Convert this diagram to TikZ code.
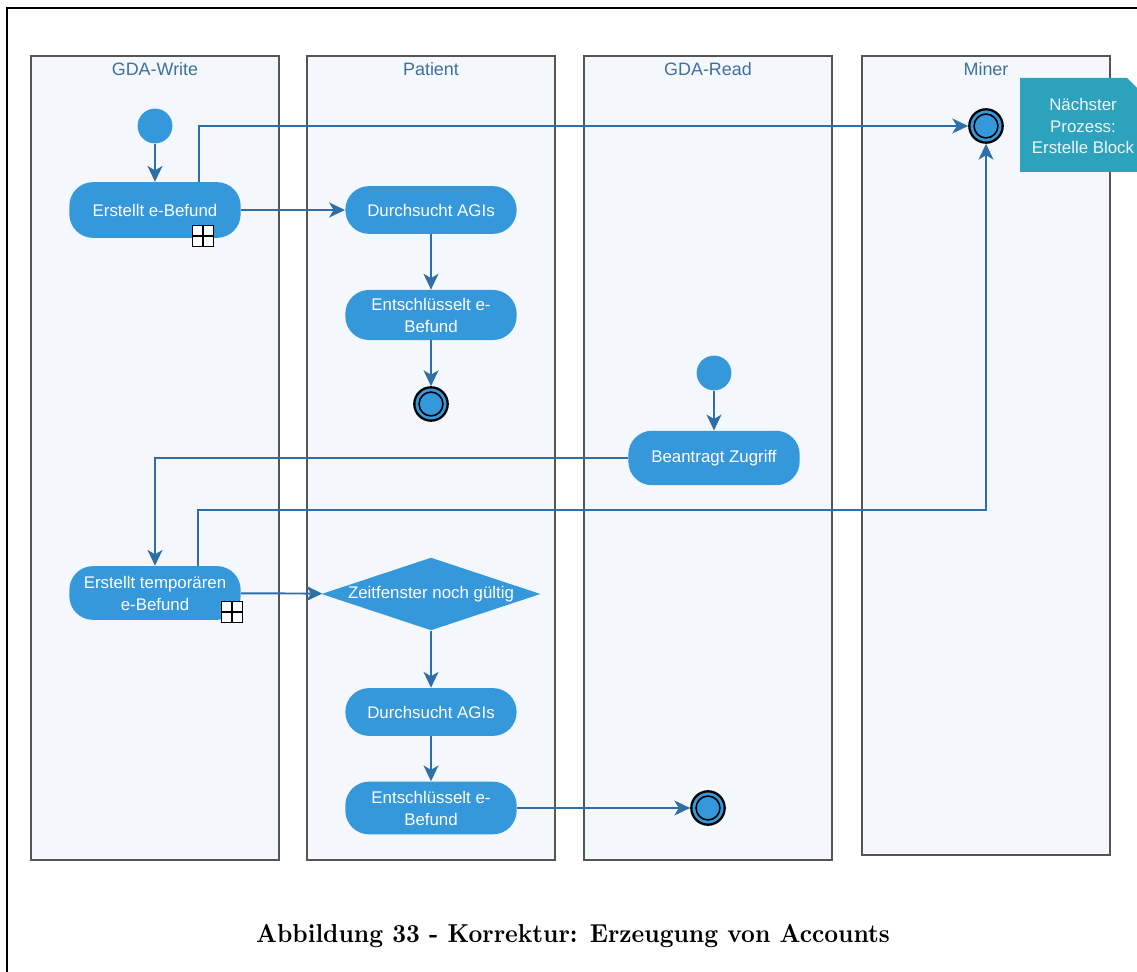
\documentclass[tikz,border=0pt]{standalone}
\usepackage{graphicx}
\usepackage{fontspec}
\newfontfamily\uifont{Liberation Sans}
\usetikzlibrary{shapes.geometric,arrows.meta}

\definecolor{actblue}{HTML}{3598DB}
\definecolor{flowblue}{HTML}{2E6FA7}
\definecolor{lanefill}{HTML}{F4F8FC}
\definecolor{laneline}{HTML}{555555}
\definecolor{titleblue}{HTML}{3F6F9F}
\definecolor{noteteal}{HTML}{2DA2BD}

\begin{document}
\begin{tikzpicture}[x=0.02cm,y=-0.02cm,
  lane/.style={draw=laneline,fill=lanefill,line width=0.7pt},
  lanetitle/.style={text=titleblue,font=\uifont\fontsize{10.2}{12}\selectfont,inner sep=0pt},
  act/.style={rectangle,rounded corners=13.5pt,fill=actblue,text=white,
    font=\uifont\fontsize{9.6}{12.5}\selectfont,align=center,
    minimum width=97.5pt,minimum height=#1,inner sep=1pt},
  act/.default=29pt,
  startnode/.style={circle,fill=actblue,minimum size=19.8pt,inner sep=0pt},
  endnode/.style={circle,fill=actblue,draw=black,line width=1.3pt,
    minimum size=19pt,inner sep=0pt,
    path picture={\draw[black,line width=0.9pt] (path picture bounding box.center) circle (6.8pt);}},
  subproc/.style={rectangle,draw=black,fill=white,line width=0.7pt,
    minimum size=12pt,inner sep=0pt,
    path picture={\draw[black,line width=0.7pt]
      (path picture bounding box.north) -- (path picture bounding box.south)
      (path picture bounding box.west) -- (path picture bounding box.east);}},
  decision/.style={diamond,fill=actblue,aspect=3,inner sep=0pt,
    minimum width=124.7pt,minimum height=41.4pt},
  whitetext/.style={text=white,font=\uifont\fontsize{9.6}{12.5}\selectfont,align=center,inner sep=0pt},
  notetext/.style={text=white!92!noteteal,font=\uifont\fontsize{9.6}{12}\selectfont,align=center,inner sep=0pt},
  flow/.style={draw=flowblue,line width=1.1pt,-{Stealth[length=9pt,width=8.5pt,inset=2.5pt]}}
]
\useasboundingbox (0,0) rectangle (1137,972);
\clip (0,0) rectangle (1137,972);

% outer frame (left and top edges)
\draw[line width=1.3pt] (7,972) -- (7,8) -- (1137,8);

% swimlanes
\draw[lane] (31,56) rectangle (279,860);
\draw[lane] (307,56) rectangle (555,860);
\draw[lane] (584,56) rectangle (832,860);
\draw[lane] (862,56) rectangle (1110,855);
\node[lanetitle] (tw) at (155,69) {GDA-Write};
\node[lanetitle] (tp) at (431,69) {Patient};
\node[lanetitle] (tr) at (708,69) {GDA-Read};
\node[lanetitle] (tm) at (986,69) {Miner};

% note
\fill[noteteal] (1020,78) -- (1127,78) -- (1150,101) -- (1150,172) -- (1020,172) -- cycle;
\node[notetext] (note) at (1083,126) {Nächster\\Prozess:\\Erstelle Block};

% activity nodes
\node[startnode] (s1) at (155,126) {};
\node[act=31.7pt] (eb) at (155,210) {Erstellt e-Befund};
\node[act=27.2pt] (da1) at (431,210) {Durchsucht AGIs};
\node[act=28.5pt] (ent1) at (431,315) {Entschlüsselt e-\\Befund};
\node[endnode] (end1) at (431,404) {};
\node[startnode] (s2) at (714,373) {};
\node[act=31pt] (ba) at (714,458) {Beantragt Zugriff};
\node[act=30.6pt] (et) at (155,593) {Erstellt temporären\\e-Befund};
\node[decision] (zf) at (431,594) {};
\node[whitetext] (zft) at (431,594) {Zeitfenster noch gültig};
\node[act=27.2pt] (da2) at (431,712) {Durchsucht AGIs};
\node[act=30pt] (ent2) at (431,808) {Entschlüsselt e-\\Befund};
\node[endnode] (end2) at (708,808) {};
\node[endnode] (endM) at (986,126) {};

% connectors
\coordinate (tap1) at (199,126);
\coordinate (tap2) at (198,510);
\draw[flow] (s1) -- (eb);
\draw[flow] (eb.north -| tap1) |- (endM);
\draw[flow] (eb) -- (da1);
\draw[flow] (da1) -- (ent1);
\draw[flow] (ent1) -- (end1);
\draw[flow] (s2) -- (ba);
\draw[flow] (ba) -| (et);
\draw[flow] (et.north -| tap2) -- (tap2) -| (endM);
\draw[flow] (et) -- (zf);
\draw[flow] (zf) -- (da2);
\draw[flow] (da2) -- (ent2);
\draw[flow] (ent2) -- (end2);

% sub-process markers
\node[subproc] (sp1) at (203,236) {};
\node[subproc] (sp2) at (232,612) {};

% caption
\node (cap) at (573,936) {\resizebox{360.6pt}{10.3pt}{\bfseries Abbildung 33 - Korrektur: Erzeugung von Accounts}};
\end{tikzpicture}
\end{document}
